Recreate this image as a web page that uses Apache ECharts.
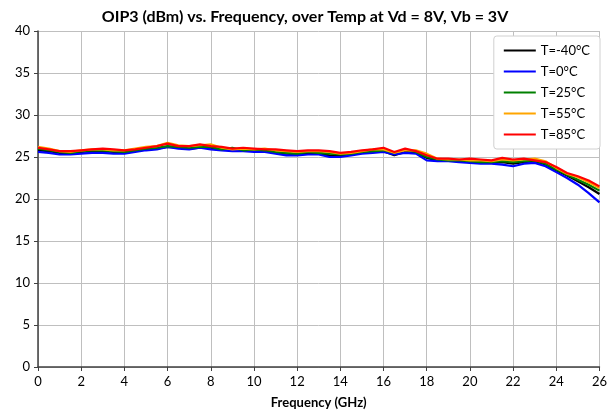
<!DOCTYPE html>
<html><head><meta charset="utf-8">
<script src="https://cdn.jsdelivr.net/npm/echarts@6/dist/echarts.min.js"></script>
<style>html,body{margin:0;padding:0;background:#fff}#c{width:610px;height:416px}</style>
</head><body><div id="c"></div>
<script>
const freqGHz = [0,0.5,1,1.5,2,2.5,3,3.5,4,4.5,5,5.5,6,6.5,7,7.5,8,8.5,9,9.5,10,10.5,11,11.5,12,12.5,13,13.5,14,14.5,15,15.5,16,16.5,17,17.5,18,18.5,19,19.5,20,20.5,21,21.5,22,22.5,23,23.5,24,24.5,25,25.5,26];
const seriesNames = ["T=-40°C","T=0°C","T=25°C","T=55°C","T=85°C"];
const tM40 = [25.8,25.7,25.5,25.4,25.6,25.7,25.7,25.6,25.5,25.7,25.9,26.0,26.2,26.1,26.0,26.1,26.1,25.9,25.8,25.8,25.8,25.7,25.5,25.4,25.3,25.4,25.4,25.2,25.1,25.3,25.5,25.7,25.7,25.2,25.6,25.5,24.9,24.6,24.6,24.5,24.4,24.3,24.3,24.4,24.2,24.4,24.5,24.1,23.4,22.8,22.1,21.4,20.6];
const t0 = [25.6,25.5,25.3,25.3,25.4,25.5,25.5,25.4,25.4,25.6,25.8,25.9,26.2,26.0,25.9,26.1,25.9,25.8,25.7,25.7,25.6,25.6,25.4,25.2,25.2,25.3,25.3,25.0,25.0,25.2,25.4,25.5,25.6,25.3,25.5,25.4,24.6,24.5,24.5,24.4,24.3,24.2,24.2,24.1,23.9,24.2,24.3,23.9,23.2,22.5,21.7,20.7,19.6];
const t25 = [26.0,25.8,25.6,25.5,25.7,25.8,25.8,25.7,25.6,25.8,26.0,26.1,26.3,26.2,26.1,26.2,26.2,25.9,26.1,25.8,25.9,25.8,25.6,25.5,25.4,25.6,25.5,25.4,25.3,25.4,25.6,25.7,25.8,25.5,25.9,25.6,25.0,24.7,24.6,24.6,24.5,24.4,24.4,24.5,24.4,24.5,24.6,24.2,23.5,22.9,22.3,21.7,21.0];
const t55 = [26.2,26.0,25.7,25.6,25.8,25.9,25.9,25.8,25.8,26.0,26.2,26.3,26.7,26.4,26.3,26.4,26.5,26.1,25.9,26.0,25.9,26.0,25.8,25.7,25.6,25.7,25.7,25.6,25.4,25.5,25.7,25.9,25.9,25.5,25.8,25.8,25.4,24.8,24.7,24.7,24.6,24.6,24.5,24.7,24.6,24.7,24.8,24.5,23.7,23.0,22.6,22.0,21.3];
const t85 = [26.1,25.9,25.7,25.7,25.8,25.9,26.0,25.9,25.8,25.9,26.1,26.3,26.6,26.3,26.3,26.5,26.3,26.2,26.0,26.1,26.0,25.9,25.9,25.8,25.7,25.8,25.8,25.7,25.5,25.6,25.8,25.9,26.1,25.6,26.0,25.7,25.2,24.8,24.8,24.7,24.8,24.7,24.6,24.9,24.7,24.8,24.6,24.4,23.8,23.1,22.7,22.2,21.5];
const colors = ["#000000","#0000ff","#008000","#ffa500","#ff0000"];
const allData = [tM40,t0,t25,t55,t85];

const font = "Lato, 'Liberation Sans', sans-serif";
const chart = echarts.init(document.getElementById('c'), null, {renderer:'canvas'});
chart.setOption({
  animation:false,
  backgroundColor:'#fff',
  title:{text:'OIP3 (dBm) vs. Frequency, over Temp at Vd = 8V, Vb = 3V',left:'center',top:4,
    textStyle:{fontFamily:font,fontSize:16,fontWeight:'bold',color:'#000'}},
  grid:{left:38,right:7,top:31,bottom:49},
  legend:{orient:'vertical',right:10,top:36,backgroundColor:'#fff',borderColor:'#d0d0d0',borderWidth:1,borderRadius:3,
    padding:[8,10,8,10],itemWidth:32,itemHeight:10,itemGap:8,
    textStyle:{fontFamily:font,fontSize:13,color:'#000'},
    data:seriesNames.map(n=>({name:n,icon:'path://M0,4 L32,4 L32,6 L0,6 Z'}))},
  xAxis:{type:'value',min:0,max:26,interval:2,name:'Frequency (GHz)',nameLocation:'middle',nameGap:29,
    nameTextStyle:{fontFamily:font,fontSize:13,fontWeight:'bold',color:'#000'},
    axisLine:{onZero:false,lineStyle:{color:'#404040',width:1.5}},
    axisTick:{show:true,length:4,lineStyle:{color:'#404040'}},
    axisLabel:{fontFamily:font,fontSize:13,color:'#000',margin:8},
    splitLine:{show:true,lineStyle:{color:'#bfbfbf',width:1}}},
  yAxis:{type:'value',min:0,max:40,interval:5,
    axisLine:{show:true,lineStyle:{color:'#404040',width:1.5}},
    axisTick:{show:true,length:4,lineStyle:{color:'#404040'}},
    axisLabel:{fontFamily:font,fontSize:13,color:'#000',margin:8},
    splitLine:{show:true,lineStyle:{color:'#bfbfbf',width:1}}},
  series:seriesNames.map((n,i)=>({name:n,type:'line',showSymbol:false,symbol:'none',
    data:freqGHz.map((f,j)=>[f,allData[i][j]]),
    lineStyle:{color:colors[i],width:2.2},itemStyle:{color:colors[i]},z:2+i}))
});
</script></body></html>
